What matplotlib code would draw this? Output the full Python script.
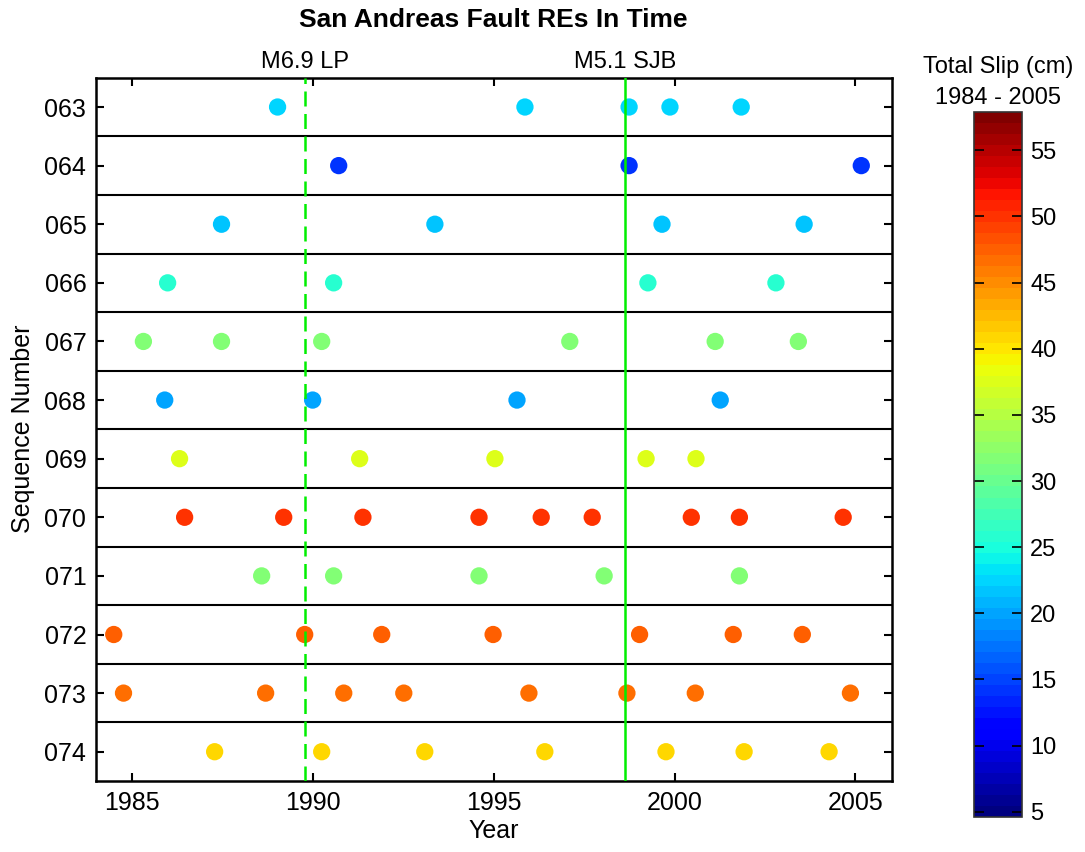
import matplotlib.pyplot as plt
import matplotlib.colors as mcolors
import matplotlib.transforms as mtransforms

plt.rcParams['font.family'] = ['Liberation Sans', 'DejaVu Sans']

# repeating-earthquake sequences, event times (decimal year) and total slip (cm)
seq_numbers = [63, 64, 65, 66, 67, 68, 69, 70, 71, 72, 73, 74]
seq_labels = ['063', '064', '065', '066', '067', '068', '069', '070', '071', '072', '073', '074']
event_years = [
    [1989.02, 1995.86, 1998.74, 1999.87, 2001.84],
    [1990.71, 1998.74, 2005.16],
    [1987.47, 1993.37, 1999.65, 2003.58],
    [1985.98, 1990.57, 1999.26, 2002.80],
    [1985.31, 1987.47, 1990.24, 1997.10, 2001.12, 2003.42],
    [1985.90, 1989.99, 1995.64, 2001.26],
    [1986.31, 1991.29, 1995.03, 1999.21, 2000.59],
    [1986.45, 1989.19, 1991.38, 1994.59, 1996.31, 1997.72, 2000.46, 2001.79, 2004.66],
    [1988.58, 1990.57, 1994.59, 1998.05, 2001.79],
    [1984.49, 1989.77, 1991.90, 1994.98, 1999.03, 2001.62, 2003.53],
    [1984.76, 1988.69, 1990.85, 1992.51, 1995.97, 1998.68, 2000.57, 2004.86],
    [1987.28, 1990.24, 1993.09, 1996.41, 1999.76, 2001.92, 2004.27],
]
total_slip = [22.5, 14.5, 21.8, 26.0, 31.9, 19.8, 37.6, 50.3, 31.9, 47.6, 46.8, 40.6]

# large events marked on the time axis
quake_years = [1989.78, 1998.62]
quake_names = ['M6.9 LP', 'M5.1 SJB']
quake_styles = ['--', '-']

x_ticks = [1985, 1990, 1995, 2000, 2005]
cbar_ticks = [5, 10, 15, 20, 25, 30, 35, 40, 45, 50, 55]

fig = plt.figure(figsize=(10.85, 8.52), dpi=100)
ax = fig.add_axes([0.0885, 0.0833, 0.7333, 0.8255])

cmap = plt.get_cmap('jet', 64)
norm = mcolors.Normalize(vmin=4.6, vmax=57.9)

xs, ys, cs = [], [], []
for seq, years, slip in zip(seq_numbers, event_years, total_slip):
    xs += years
    ys += [seq] * len(years)
    cs += [slip] * len(years)
sc = ax.scatter(xs, ys, c=cs, cmap=cmap, norm=norm, s=155, linewidths=0, zorder=2)

# row separators
for seq in seq_numbers[:-1]:
    ax.axhline(seq + 0.5, color='black', lw=1.5, zorder=1)

trans = mtransforms.blended_transform_factory(ax.transData, ax.transAxes)
for yr, name, ls in zip(quake_years, quake_names, quake_styles):
    ax.axvline(yr, color='#00ee00', lw=1.8, ls=ls, dashes=(6, 3) if ls == '--' else (None, None), zorder=3)
    ax.text(yr, 1.006, name, transform=trans, ha='center', va='bottom', fontsize=17)

ax.set_xlim(1984, 2006)
ax.set_ylim(seq_numbers[-1] + 0.5, seq_numbers[0] - 0.5)
ax.set_xticks(x_ticks)
ax.set_xticklabels([str(t) for t in x_ticks])
ax.set_yticks(seq_numbers)
ax.set_yticklabels(seq_labels)
ax.tick_params(direction='in', length=6, width=1.5, top=True, right=True,
               labelsize=18, pad=7)
for sp in ax.spines.values():
    sp.set_linewidth(1.8)

fig.text(0.455, 0.977, 'San Andreas Fault REs In Time', ha='center', va='center',
         fontsize=19, fontweight='bold')
fig.text(0.455, 0.025, 'Year', ha='center', va='center', fontsize=18)
fig.text(0.021, 0.4965, 'Sequence Number', ha='center', va='center', rotation=90, fontsize=18)

cax = fig.add_axes([0.8977, 0.0411, 0.0442, 0.8275])
cb = fig.colorbar(sc, cax=cax)
cb.set_ticks(cbar_ticks)
cax.tick_params(direction='in', length=7, width=1.2, left=True, right=True,
                labelsize=17, pad=6)
cb.outline.set_linewidth(1.2)
cb.outline.set_edgecolor('#333333')
fig.text(0.92, 0.872, 'Total Slip (cm)\n1984 - 2005', ha='center', va='bottom',
         fontsize=17, linespacing=1.55)

fig.savefig('out.png', dpi=100)
